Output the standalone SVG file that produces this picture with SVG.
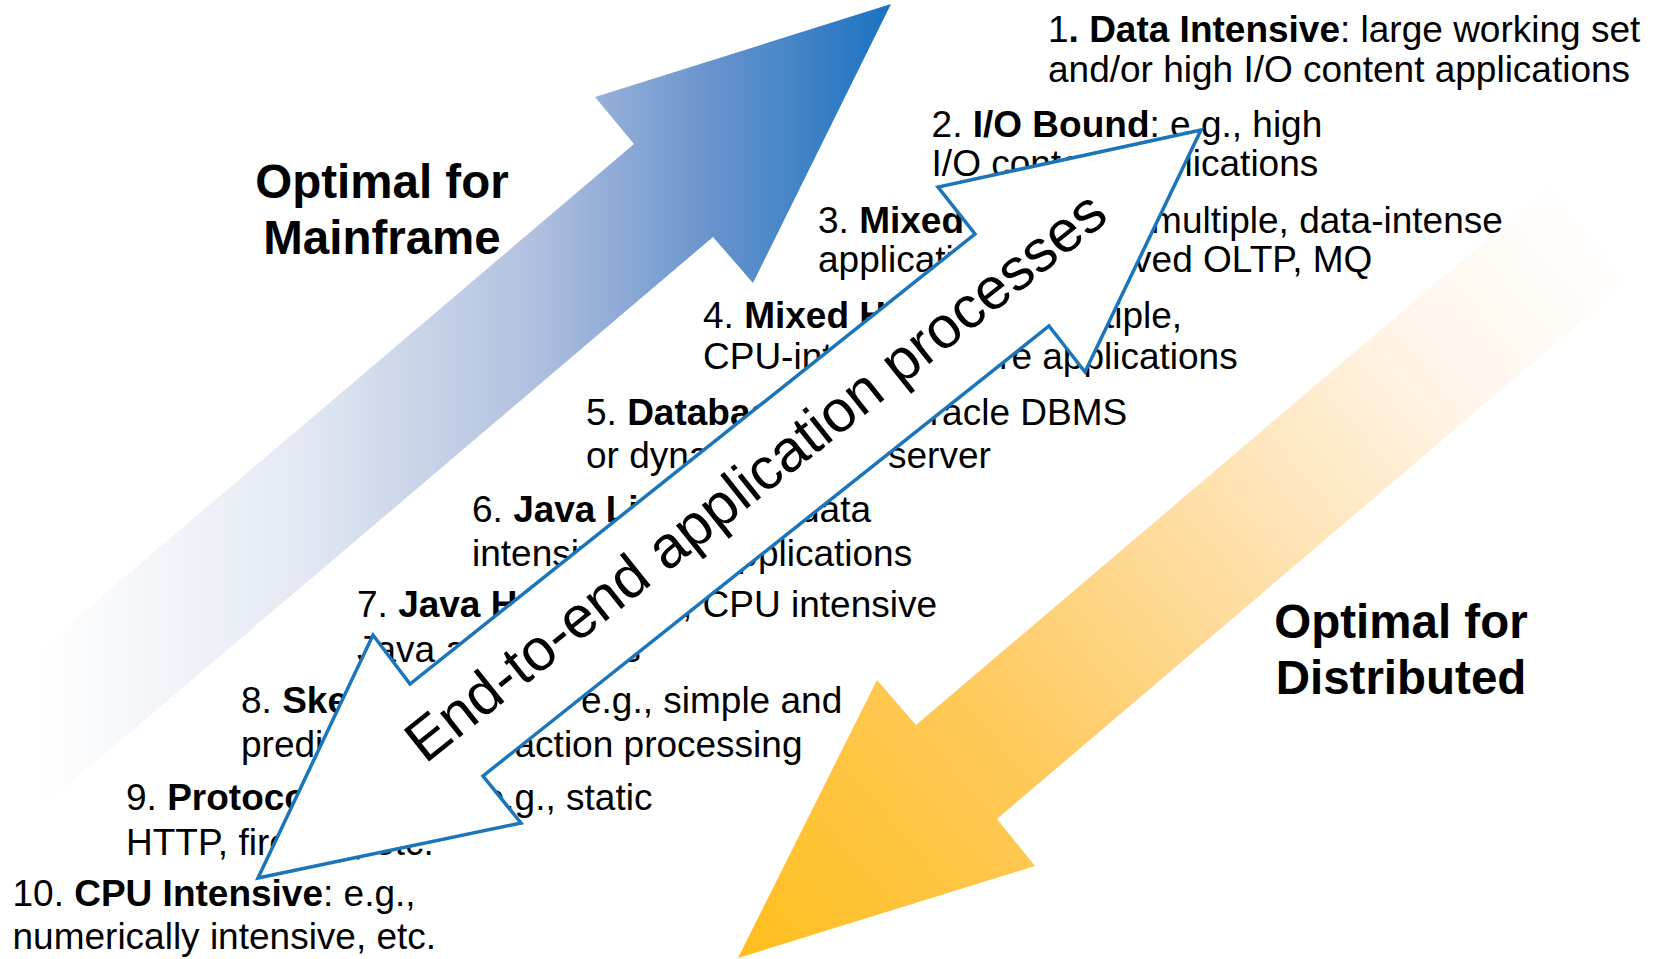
<svg xmlns="http://www.w3.org/2000/svg" width="1663" height="959" viewBox="0 0 1663 959">
  <defs>
    <style>
      .t { font-family: "Liberation Sans", Arial, sans-serif; font-size: 37px; fill: #000; }
      .b { font-weight: bold; }
      .h { font-family: "Liberation Sans", Arial, sans-serif; font-size: 47.5px; font-weight: bold; fill: #000; text-anchor: middle; }
      .dbl { fill: #ffffff; stroke: #1b75bb; stroke-width: 3.5; stroke-linejoin: miter; }
      .lbl { font-family: "Liberation Sans", Arial, sans-serif; font-size: 59px; fill: #000; text-anchor: middle; }
    </style>
    <linearGradient id="gBlue" gradientUnits="userSpaceOnUse" x1="40" y1="0" x2="892" y2="0">
      <stop offset="0" stop-color="#ffffff"/>
      <stop offset="0.3" stop-color="#e4e9f3"/>
      <stop offset="0.58" stop-color="#b0c0df"/>
      <stop offset="0.78" stop-color="#6b95cd"/>
      <stop offset="1" stop-color="#1a72c1"/>
    </linearGradient>
    <linearGradient id="gOrange" gradientUnits="userSpaceOnUse" x1="738" y1="958" x2="1600" y2="225">
      <stop offset="0" stop-color="#ffbe1c"/>
      <stop offset="0.3" stop-color="#fec95a"/>
      <stop offset="0.58" stop-color="#fee0ac"/>
      <stop offset="0.82" stop-color="#fff6ec"/>
      <stop offset="1" stop-color="#ffffff"/>
    </linearGradient>
  </defs>

  <g id="arrow-mainframe">
    <polygon points="40,809 -39,716 634,144 595,97 891,4 753,283 713,237" fill="url(#gBlue)"/>
  </g>
  <g id="arrow-distributed">
    <polygon points="738,958 877,680 916,725 1550,186 1629,281 997,819 1035,866" fill="url(#gOrange)"/>
  </g>

  <g id="label-mainframe">
    <text class="h" x="382" y="198">Optimal for</text>
    <text class="h" x="382" y="254">Mainframe</text>
  </g>
  <g id="label-distributed">
    <text class="h" x="1401" y="638">Optimal for</text>
    <text class="h" x="1401" y="694">Distributed</text>
  </g>

  <g id="item-1">
    <text class="t" x="1048" y="42">1<tspan class="b">. Data Intensive</tspan>: large working set</text>
    <text class="t" x="1048" y="82">and/or high I/O content applications</text>
  </g>
  <g id="item-2">
    <text class="t" x="931.6" y="137">2. <tspan class="b">I/O Bound</tspan>: e.g., high</text>
    <text class="t" x="931.6" y="176">I/O content applications</text>
  </g>
  <g id="item-3">
    <text class="t" x="818" y="233">3. <tspan class="b">Mixed Low</tspan>: e.g., multiple, data-intense</text>
    <text class="t" x="818" y="272">applications, <tspan x="1057">involved OLTP, MQ</tspan></text>
  </g>
  <g id="item-4">
    <text class="t" x="703" y="328">4. <tspan class="b">Mixed High</tspan>: e.g., multiple,</text>
    <text class="t" x="703" y="369">CPU-intensive, core applications</text>
  </g>
  <g id="item-5">
    <text class="t" x="586" y="425">5. <tspan class="b">Database</tspan>: e.g., <tspan x="901">Oracle DBMS</tspan></text>
    <text class="t" x="586" y="468">or dynamic web <tspan x="888">server</tspan></text>
  </g>
  <g id="item-6">
    <text class="t" x="472" y="522">6. <tspan class="b">Java Light</tspan>: e.g., data</text>
    <text class="t" x="472" y="566">intensive Java applications</text>
  </g>
  <g id="item-7">
    <text class="t" x="357" y="617">7. <tspan class="b">Java Heavy</tspan>: e.g., CPU intensive</text>
    <text class="t" x="357" y="662">Java applications</text>
  </g>
  <g id="item-8">
    <text class="t" x="241" y="713">8. <tspan class="b">Skeleton</tspan>: <tspan x="581">e.g., simple and</tspan></text>
    <text class="t" x="241" y="757">predictable transaction processing</text>
  </g>
  <g id="item-9">
    <text class="t" x="126" y="810">9. <tspan class="b">Protocol Serving</tspan>: e.g., static</text>
    <text class="t" x="126" y="855">HTTP, firewall, etc.</text>
  </g>
  <g id="item-10">
    <text class="t" x="12.5" y="906">10. <tspan class="b">CPU Intensive</tspan>: e.g.,</text>
    <text class="t" x="12.5" y="949">numerically intensive, etc.</text>
  </g>

  <g id="connectors">
    <polygon class="dbl" points="1201,130 1085,372 1049,326 483,776 521,823 258,878 373,635 410,684 975,234 938,187"/>
  </g>
  <g id="label-end-to-end">
    <text class="lbl" transform="translate(768,492) rotate(-38.5)">End-to-end application processes</text>
  </g>
</svg>
